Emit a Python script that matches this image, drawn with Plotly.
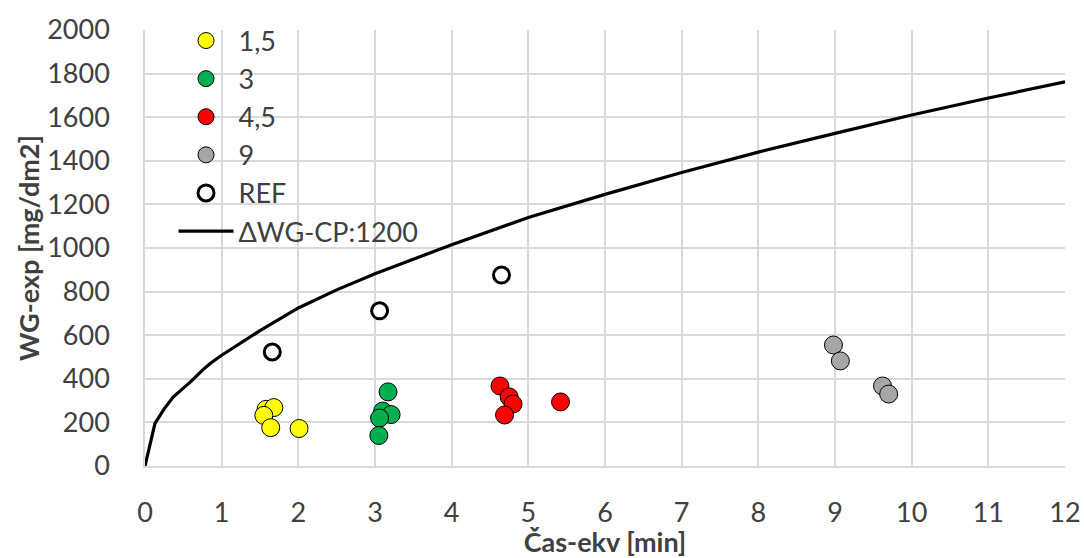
import plotly.graph_objects as go

# Scatter series
x_15 = [1.58, 1.68, 1.55, 1.64, 2.01]
y_15 = [260, 268, 232, 176, 172]
x_3 = [3.17, 3.10, 3.21, 3.06, 3.05]
y_3 = [340, 252, 236, 220, 140]
x_45 = [4.63, 4.75, 4.80, 4.69, 5.42]
y_45 = [367, 317, 284, 234, 294]
x_9 = [8.98, 9.07, 9.62, 9.70]
y_9 = [555, 482, 367, 330]
x_ref = [1.66, 3.06, 4.65]
y_ref = [523, 712, 876]

# Curve ΔWG-CP:1200
x_cp = [0, 0.13, 0.25, 0.37, 0.5, 0.6, 0.75, 0.85, 1, 1.37, 1.5, 2, 2.5, 3, 3.5, 4,
        5, 6, 7, 8, 9, 10, 11, 12]
y_cp = [0, 195, 262, 317, 357, 388, 440, 470, 508, 592, 621, 725, 808, 882, 950, 1015,
        1140, 1246, 1346, 1440, 1526, 1610, 1688, 1762]

FONT = "Lato"
TXT = "#404040"
GRID = "#d9d9d9"
FS = 27

fig = go.Figure()

def pts(x, y, name, color, g):
    fig.add_trace(go.Scatter(
        x=x, y=y, mode="markers", name=name, legendgroup=g,
        marker=dict(size=18, color=color, line=dict(color="black", width=1))))

pts(x_15, y_15, "1,5", "#ffff00", "a")
pts(x_3, y_3, "3", "#00b050", "b")
pts(x_45, y_45, "4,5", "#ff0000", "c")
pts(x_9, y_9, "9", "#a6a6a6", "d")
fig.add_trace(go.Scatter(
    x=x_ref, y=y_ref, mode="markers", name="REF", legendgroup="e",
    marker=dict(size=16, color="white", line=dict(color="black", width=3))))
fig.add_trace(go.Scatter(
    x=x_cp, y=y_cp, mode="lines", name="ΔWG-CP:1200", legendgroup="f",
    line=dict(color="black", width=3.2)))

fig.update_layout(
    width=1084, height=558,
    margin=dict(l=145, r=19, t=30, b=92),
    paper_bgcolor="white", plot_bgcolor="white",
    font=dict(family=FONT, size=FS, color=TXT),
    showlegend=True,
    legend=dict(x=0.031, xanchor="left", y=1.031, yanchor="top",
                bgcolor="rgba(0,0,0,0)", tracegroupgap=0, itemwidth=55,
                font=dict(family=FONT, size=FS, color=TXT)),
    xaxis=dict(range=[0, 12], dtick=1, showgrid=True, gridcolor=GRID, gridwidth=1.5,
               zeroline=False, showline=True, linecolor=GRID, linewidth=1.5, mirror=False,
               ticks="", tickfont=dict(size=FS, color=TXT), ticklabelstandoff=22,
               automargin=False,
               title=dict(text="<b>Čas-ekv [min]</b>", font=dict(size=FS, color=TXT), standoff=0)),
    yaxis=dict(range=[0, 2000], dtick=200, showgrid=True, gridcolor=GRID, gridwidth=1.5,
               zeroline=False, showline=True, linecolor=GRID, linewidth=1.5,
               ticks="", tickfont=dict(size=FS, color=TXT), ticklabelstandoff=28,
               automargin=False,
               title=dict(text="<b>WG-exp [mg/dm2]</b>", font=dict(size=FS, color=TXT), standoff=0)),
)

fig.write_html("out.html")
